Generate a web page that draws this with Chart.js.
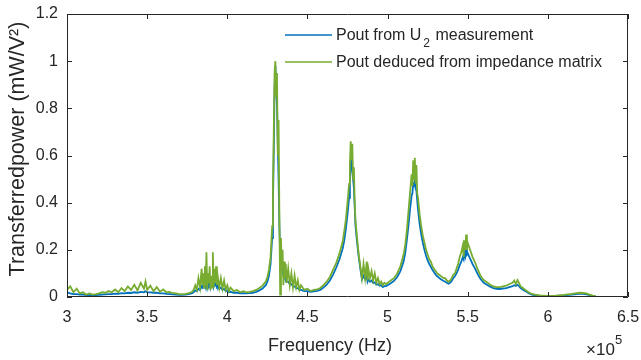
<!DOCTYPE html>
<html>
<head>
<meta charset="utf-8">
<script src="https://cdn.jsdelivr.net/npm/chart.js@4"></script>
<style>
html,body{margin:0;padding:0;background:#fff;}
canvas{display:block;}
</style>
</head>
<body>
<canvas id="c" width="641" height="360"></canvas>
<script>
// Frequency in units of 10^5 Hz
const freq = [3.00,3.02,3.04,3.06,3.08,3.10,3.12,3.14,3.16,3.18,3.20,3.22,3.24,3.26,3.28,3.30,3.32,3.34,3.36,3.38,3.40,3.42,3.44,3.46,3.48,3.49,3.50,3.52,3.54,3.56,3.58,3.60,3.62,3.64,3.66,3.68,3.70,3.72,3.74,3.76,3.78,3.79,3.80,3.81,3.82,3.83,3.84,3.845,3.85,3.855,3.86,3.865,3.87,3.875,3.88,3.885,3.89,3.895,3.90,3.905,3.91,3.915,3.92,3.925,3.93,3.935,3.94,3.95,3.96,3.97,3.98,3.99,4.00,4.01,4.02,4.04,4.06,4.08,4.10,4.12,4.14,4.16,4.18,4.20,4.22,4.24,4.25,4.26,4.27,4.28,4.285,4.29,4.295,4.30,4.305,4.31,4.315,4.32,4.325,4.33,4.335,4.34,4.345,4.35,4.355,4.36,4.365,4.37,4.38,4.39,4.40,4.41,4.42,4.43,4.44,4.45,4.46,4.48,4.50,4.52,4.54,4.56,4.58,4.60,4.62,4.64,4.66,4.68,4.70,4.72,4.73,4.74,4.75,4.76,4.765,4.77,4.775,4.78,4.785,4.79,4.795,4.80,4.81,4.82,4.83,4.84,4.85,4.86,4.87,4.875,4.88,4.89,4.90,4.91,4.92,4.93,4.94,4.95,4.96,4.97,4.98,4.99,5.00,5.02,5.04,5.06,5.08,5.10,5.11,5.12,5.13,5.14,5.15,5.155,5.16,5.165,5.17,5.175,5.18,5.185,5.19,5.20,5.21,5.22,5.23,5.24,5.25,5.26,5.27,5.28,5.29,5.30,5.31,5.32,5.33,5.34,5.35,5.36,5.37,5.38,5.39,5.40,5.41,5.42,5.43,5.44,5.45,5.46,5.47,5.475,5.48,5.485,5.49,5.495,5.50,5.51,5.52,5.53,5.54,5.55,5.56,5.57,5.58,5.59,5.60,5.62,5.64,5.66,5.68,5.70,5.72,5.74,5.76,5.78,5.79,5.80,5.81,5.82,5.83,5.84,5.86,5.88,5.90,5.92,5.95,6.00,6.05,6.10,6.15,6.18,6.20,6.22,6.24,6.26,6.28,6.30];

// Pout from U2 measurement (blue)
const poutMeasured = [0.020,0.015,0.012,0.012,0.010,0.010,0.008,0.008,0.007,0.008,0.009,0.010,0.011,0.012,0.012,0.014,0.013,0.016,0.015,0.018,0.017,0.020,0.018,0.022,0.020,0.024,0.020,0.020,0.018,0.018,0.015,0.015,0.013,0.012,0.011,0.010,0.009,0.009,0.010,0.012,0.016,0.020,0.028,0.025,0.035,0.030,0.045,0.040,0.050,0.040,0.060,0.045,0.070,0.040,0.055,0.050,0.060,0.040,0.055,0.045,0.070,0.045,0.060,0.050,0.055,0.045,0.050,0.035,0.040,0.030,0.035,0.025,0.028,0.020,0.022,0.018,0.018,0.015,0.016,0.015,0.016,0.018,0.022,0.028,0.036,0.050,0.065,0.090,0.140,0.250,0.400,0.620,0.880,0.980,0.900,0.820,0.650,0.500,0.300,0.180,0.150,0.120,0.110,0.090,0.090,0.080,0.075,0.065,0.065,0.055,0.055,0.045,0.045,0.038,0.038,0.030,0.030,0.025,0.025,0.022,0.024,0.026,0.030,0.040,0.052,0.070,0.095,0.125,0.160,0.205,0.240,0.290,0.350,0.420,0.480,0.560,0.600,0.540,0.500,0.460,0.380,0.300,0.230,0.170,0.120,0.075,0.090,0.075,0.085,0.065,0.075,0.065,0.070,0.060,0.062,0.052,0.055,0.048,0.050,0.042,0.046,0.046,0.050,0.058,0.068,0.085,0.110,0.150,0.185,0.240,0.300,0.370,0.430,0.440,0.480,0.470,0.500,0.460,0.450,0.410,0.370,0.310,0.265,0.230,0.200,0.175,0.155,0.140,0.128,0.115,0.105,0.095,0.088,0.082,0.076,0.072,0.068,0.065,0.060,0.056,0.060,0.068,0.080,0.088,0.100,0.115,0.135,0.150,0.170,0.160,0.190,0.175,0.210,0.180,0.185,0.170,0.155,0.140,0.128,0.115,0.100,0.088,0.076,0.068,0.060,0.052,0.044,0.038,0.035,0.034,0.036,0.038,0.042,0.046,0.050,0.047,0.052,0.046,0.038,0.033,0.025,0.016,0.010,0.007,0.005,0.004,0.005,0.007,0.010,0.012,0.014,0.013,0.011,0.008,0.005,0.002];

// Pout deduced from impedance matrix (green)
const poutDeduced = [0.030,0.045,0.020,0.035,0.015,0.020,0.010,0.015,0.010,0.012,0.015,0.020,0.018,0.025,0.020,0.032,0.020,0.038,0.025,0.045,0.030,0.052,0.028,0.060,0.035,0.066,0.030,0.048,0.025,0.042,0.022,0.032,0.020,0.022,0.016,0.015,0.012,0.012,0.013,0.016,0.022,0.030,0.050,0.030,0.080,0.040,0.120,0.050,0.100,0.040,0.130,0.050,0.190,0.030,0.100,0.060,0.130,0.030,0.090,0.040,0.190,0.040,0.120,0.060,0.130,0.050,0.090,0.040,0.080,0.035,0.070,0.030,0.050,0.025,0.040,0.025,0.030,0.020,0.025,0.020,0.022,0.025,0.030,0.038,0.048,0.065,0.085,0.115,0.170,0.300,0.450,0.700,0.950,1.000,0.850,0.950,0.600,0.750,0.350,0.010,0.250,0.120,0.200,0.050,0.150,0.080,0.140,0.060,0.120,0.050,0.100,0.040,0.090,0.040,0.070,0.030,0.050,0.030,0.035,0.025,0.030,0.032,0.038,0.050,0.065,0.085,0.115,0.145,0.185,0.235,0.280,0.330,0.400,0.480,0.560,0.660,0.580,0.650,0.500,0.550,0.400,0.320,0.250,0.180,0.130,0.080,0.140,0.080,0.150,0.070,0.120,0.080,0.110,0.070,0.100,0.060,0.080,0.055,0.065,0.050,0.060,0.055,0.060,0.070,0.080,0.100,0.130,0.180,0.220,0.280,0.360,0.440,0.520,0.470,0.580,0.500,0.590,0.480,0.560,0.440,0.420,0.350,0.300,0.260,0.230,0.200,0.180,0.160,0.150,0.130,0.120,0.110,0.100,0.095,0.090,0.085,0.080,0.080,0.070,0.065,0.070,0.080,0.095,0.100,0.120,0.140,0.170,0.190,0.220,0.170,0.240,0.200,0.265,0.200,0.230,0.210,0.190,0.170,0.155,0.140,0.120,0.105,0.090,0.080,0.072,0.063,0.052,0.045,0.042,0.042,0.045,0.048,0.055,0.060,0.070,0.055,0.072,0.060,0.045,0.040,0.030,0.020,0.013,0.010,0.007,0.005,0.006,0.009,0.013,0.016,0.018,0.017,0.015,0.010,0.006,0.003];

const xTicks = [3, 3.5, 4, 4.5, 5, 5.5, 6, 6.5];
const yTicks = [0, 0.2, 0.4, 0.6, 0.8, 1, 1.2];

const seriesNames = ['Pout from U', 'Pout deduced from impedance matrix'];
const xTitle = 'Frequency (Hz)';
const yTitle = 'Transferredpower (mW/V\u00B2)';

const BLUE = '#0072BD';
const GREEN = '#77AC30';
const AXIS = '#262626';
const FONT = '"Liberation Sans", Arial, sans-serif';

const pts = (ys) => freq.map((f, i) => ({x: f, y: ys[i]}));

const decor = {
  id: 'decor',
  afterDraw(chart) {
    const ctx = chart.ctx;
    const a = chart.chartArea;
    const xs = chart.scales.x, ys = chart.scales.y;
    ctx.save();
    // box
    ctx.strokeStyle = AXIS;
    ctx.lineWidth = 1;
    ctx.beginPath();
    ctx.rect(Math.round(a.left) + 0.5, Math.round(a.top) + 0.5, Math.round(a.right - a.left) - 1, Math.round(a.bottom - a.top) - 1);
    ctx.stroke();
    // inward ticks
    ctx.beginPath();
    xTicks.forEach(v => {
      const px = Math.round(xs.getPixelForValue(v)) + 0.5;
      ctx.moveTo(px, a.bottom); ctx.lineTo(px, a.bottom - 5);
      ctx.moveTo(px, a.top); ctx.lineTo(px, a.top + 5);
    });
    yTicks.forEach(v => {
      const py = Math.round(ys.getPixelForValue(v)) + 0.5;
      ctx.moveTo(a.left, py); ctx.lineTo(a.left + 5, py);
      ctx.moveTo(a.right, py); ctx.lineTo(a.right - 5, py);
    });
    ctx.stroke();
    // tick labels
    ctx.fillStyle = AXIS;
    ctx.font = '16px ' + FONT;
    ctx.textAlign = 'center';
    ctx.textBaseline = 'middle';
    xTicks.forEach(v => {
      ctx.fillText(String(v), xs.getPixelForValue(v), a.bottom + 21);
    });
    ctx.textAlign = 'right';
    yTicks.forEach(v => {
      ctx.fillText(String(v), a.left - 9, ys.getPixelForValue(v));
    });
    // x title
    ctx.font = '18px ' + FONT;
    ctx.textAlign = 'center';
    ctx.fillText(xTitle, 330, 346);
    // x10^5
    ctx.textAlign = 'left';
    ctx.font = '17px ' + FONT;
    ctx.fillText('\u00D710', 586, 350);
    ctx.font = '13px ' + FONT;
    ctx.fillText('5', 615, 340);
    // y title
    ctx.save();
    ctx.translate(18, 149);
    ctx.rotate(-Math.PI / 2);
    ctx.font = '21.5px ' + FONT;
    ctx.textAlign = 'center';
    ctx.fillText(yTitle, 0, 0);
    ctx.restore();
    // legend
    ctx.lineWidth = 1.5;
    ctx.strokeStyle = BLUE;
    ctx.beginPath(); ctx.moveTo(285, 35); ctx.lineTo(332, 35); ctx.stroke();
    ctx.strokeStyle = GREEN;
    ctx.beginPath(); ctx.moveTo(285, 62); ctx.lineTo(332, 62); ctx.stroke();
    ctx.fillStyle = AXIS;
    ctx.textAlign = 'left';
    ctx.textBaseline = 'alphabetic';
    ctx.font = '16px ' + FONT;
    ctx.fillText(seriesNames[0], 336, 40);
    let w = ctx.measureText(seriesNames[0]).width;
    ctx.font = '12px ' + FONT;
    ctx.fillText('2', 336 + w + 2, 47);
    const w2 = ctx.measureText('2').width;
    ctx.font = '16px ' + FONT;
    ctx.fillText(' measurement', 336 + w + 2 + w2 + 1, 40);
    ctx.fillText(seriesNames[1], 336, 67);
    ctx.restore();
  }
};

new Chart(document.getElementById('c'), {
  type: 'line',
  data: {
    datasets: [
      { label: seriesNames[1], data: pts(poutDeduced), borderColor: GREEN, borderWidth: 1.8, pointRadius: 0, tension: 0, order: 0 },
      { label: seriesNames[0], data: pts(poutMeasured), borderColor: BLUE, borderWidth: 1.8, pointRadius: 0, tension: 0, order: 1 }
    ]
  },
  options: {
    responsive: false,
    animation: false,
    layout: { padding: { left: 0, right: 13, top: 14, bottom: 0 } },
    plugins: { legend: { display: false }, tooltip: { enabled: false } },
    scales: {
      x: {
        type: 'linear', min: 3, max: 6.5,
        ticks: { display: false, stepSize: 0.5 },
        grid: { display: false }, border: { display: false },
        afterFit(s) { s.height = 63; }
      },
      y: {
        min: 0, max: 1.2,
        ticks: { display: false, stepSize: 0.2 },
        grid: { display: false }, border: { display: false },
        afterFit(s) { s.width = 67; }
      }
    }
  },
  plugins: [decor]
});
</script>
</body>
</html>
